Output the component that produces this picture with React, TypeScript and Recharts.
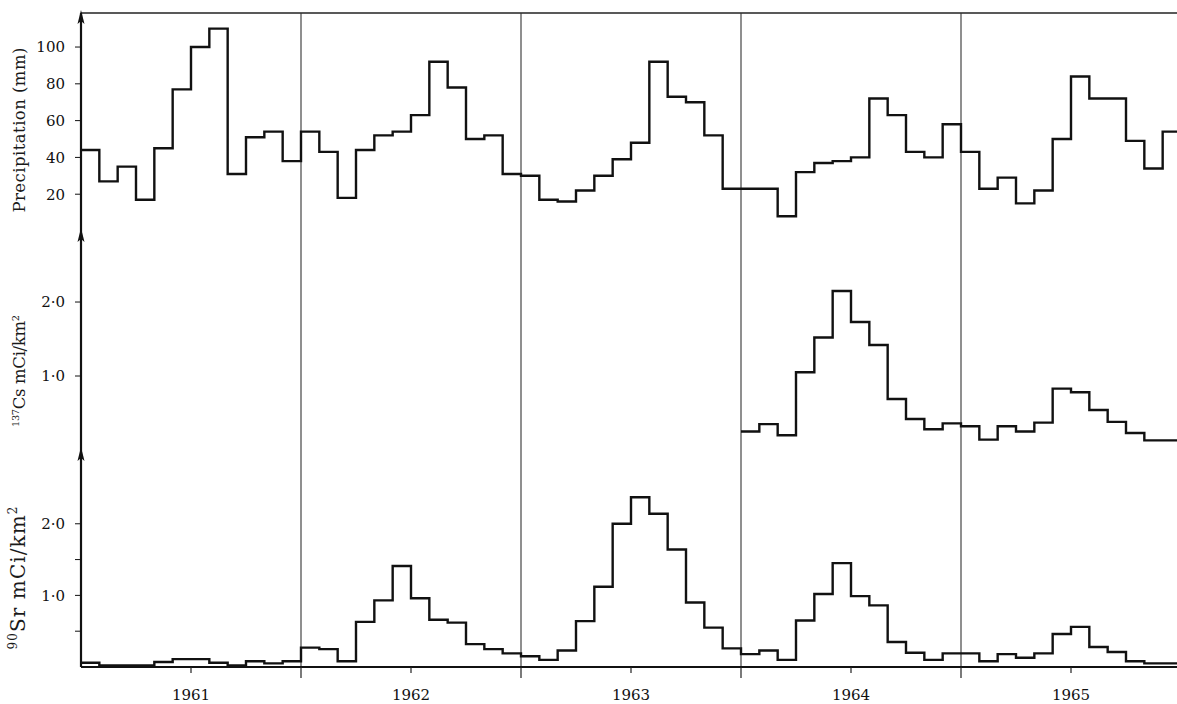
import React from 'react';
import { LineChart, Line, XAxis, YAxis, ReferenceLine } from 'recharts';

// monthly values, Jan 1961 .. Dec 1965
const years = ['1961', '1962', '1963', '1964', '1965'];

const precip = [
  44, 27, 35, 17, 45, 77, 100, 110, 31, 51, 54, 38,
  54, 43, 18, 44, 52, 54, 63, 92, 78, 50, 52, 31,
  30, 17, 16, 22, 30, 39, 48, 92, 73, 70, 52, 23,
  23, 23, 8, 32, 37, 38, 40, 72, 63, 43, 40, 58,
  43, 23, 29, 15, 22, 50, 84, 72, 72, 49, 34, 54,
];

// caesium only measured from 1964 on
const cs1964 = [0.25, 0.35, 0.2, 1.05, 1.52, 2.15, 1.73, 1.42, 0.69, 0.42, 0.28, 0.36];
const cs1965 = [0.32, 0.14, 0.32, 0.25, 0.37, 0.83, 0.78, 0.54, 0.38, 0.23, 0.13, 0.13];
const cs137: (number | null)[] = [...Array(36).fill(null), ...cs1964, ...cs1965];

const sr90 = [
  0.06, 0.02, 0.02, 0.02, 0.07, 0.11, 0.11, 0.06, 0.02, 0.08, 0.05, 0.08,
  0.27, 0.25, 0.08, 0.63, 0.93, 1.41, 0.96, 0.66, 0.62, 0.32, 0.25, 0.19,
  0.15, 0.1, 0.23, 0.64, 1.12, 2.0, 2.37, 2.14, 1.64, 0.9, 0.55, 0.26,
  0.18, 0.23, 0.1, 0.65, 1.02, 1.45, 0.99, 0.86, 0.35, 0.2, 0.1, 0.19,
  0.19, 0.08, 0.18, 0.13, 0.19, 0.46, 0.56, 0.28, 0.21, 0.08, 0.05, 0.05,
];

const yearBounds = [12, 24, 36, 48];
const xTicks = [6, 12, 18, 24, 30, 36, 42, 48, 54];
const precipTicks = [20, 40, 60, 80, 100];
const csTicks = [1, 2];
const srTicks = [0.5, 1, 1.5, 2];

// one extra row at m=60 so the last step is drawn to the end
const rows = Array.from({ length: 61 }, (_, m) => {
  const i = Math.min(m, 59);
  return { m, precip: precip[i], cs: cs137[i], sr: sr90[i] };
});

const FONT = '"DejaVu Serif", "Liberation Serif", serif';
const INK = '#111';
const W = 1181;

const fmtDot = (v: number) => (Number.isInteger(v) ? v.toFixed(1).replace('.', '\u00b7') : '');

const AxisTitle = (props: any) => {
  const { viewBox, center, length, size, parts } = props;
  const ax = viewBox.x + viewBox.width;
  const top = viewBox.y;
  const sh = size * 0.38;
  return (
    <g>
      <path d={`M${ax} ${top - 3} L${ax - 3.5} ${top + 11} L${ax} ${top + 8} L${ax + 3.5} ${top + 11} Z`} fill={INK} />
      <text
        transform={`translate(25, ${center}) rotate(-90)`}
        textAnchor="middle"
        fontFamily={FONT}
        fontSize={size}
        fill="#1a1a1a"
        textLength={length}
        lengthAdjust="spacing"
      >
        {parts.map((p: any, k: number) => {
          const prevSup = k > 0 && parts[k - 1].sup;
          const dy = p.sup ? -sh : prevSup ? sh : 0;
          return (
            <tspan key={k} fontSize={p.sup ? size * 0.6 : size} dy={dy}>
              {p.t}
            </tspan>
          );
        })}
      </text>
    </g>
  );
};

const YearTick = (props: any) => {
  const { x, y, payload } = props;
  const v = payload.value;
  const bound = v % 12 === 0;
  return (
    <g>
      <line x1={x} x2={x} y1={y} y2={y + (bound ? 11 : 6)} stroke="#222" strokeWidth={1.2} />
      {!bound && (
        <text x={x} y={y + 33} textAnchor="middle" fontFamily={FONT} fontSize={15} fill="#111">
          {years[(v - 6) / 12]}
        </text>
      )}
    </g>
  );
};

const yTickStyle = { fontFamily: FONT, fontSize: 15, fill: '#111' };

const bounds = () =>
  yearBounds.map((b) => <ReferenceLine key={b} x={b} stroke="#333" strokeWidth={1.1} />);

export default function App() {
  return (
    <div style={{ position: 'absolute', left: 0, top: 0, width: 1177, height: 704, overflow: 'hidden', background: '#fff' }}>
      <div style={{ position: 'absolute', left: 0, top: 0 }}>
        <LineChart width={W} height={239} data={rows} margin={{ top: 13, right: 0, bottom: 8, left: 0 }}>
          <XAxis type="number" dataKey="m" domain={[0, 60]} ticks={[]} tick={false} tickLine={false} height={0}
            axisLine={{ stroke: '#222', strokeWidth: 1.4 }} allowDataOverflow />
          <YAxis type="number" domain={[0, 118.5]} ticks={precipTicks} width={81} tickSize={6} tickMargin={10}
            tick={yTickStyle} tickLine={{ stroke: INK }} axisLine={{ stroke: INK, strokeWidth: 2.2 }} allowDataOverflow
            label={(p: any) => (
              <AxisTitle {...p} center={130} length={165} size={16.5} parts={[{ t: 'Precipitation (mm)' }]} />
            )}
          />
          <ReferenceLine y={118.5} stroke="#222" strokeWidth={1.4} />
          {bounds()}
          <Line type="stepAfter" dataKey="precip" stroke={INK} strokeWidth={2.4} dot={false} activeDot={false} isAnimationActive={false} />
        </LineChart>
      </div>

      <div style={{ position: 'absolute', left: 0, top: 218 }}>
        <LineChart width={W} height={240} data={rows} margin={{ top: 13, right: 0, bottom: 8, left: 0 }}>
          <XAxis type="number" dataKey="m" domain={[0, 60]} ticks={[]} tick={false} tickLine={false} height={0}
            axisLine={{ stroke: '#222', strokeWidth: 1.4 }} allowDataOverflow />
          <YAxis type="number" domain={[0, 2.96]} ticks={csTicks} width={81} tickSize={6} tickMargin={10}
            tick={yTickStyle} tickFormatter={fmtDot} tickLine={{ stroke: INK }} axisLine={{ stroke: INK, strokeWidth: 2.2 }} allowDataOverflow
            label={(p: any) => (
              <AxisTitle {...p} center={153} length={112} size={16.5}
                parts={[{ t: '137', sup: true }, { t: 'Cs mCi/km' }, { t: '2', sup: true }]} />
            )}
          />
          {bounds()}
          <Line type="stepAfter" dataKey="cs" stroke={INK} strokeWidth={2.4} dot={false} activeDot={false} connectNulls={false} isAnimationActive={false} />
        </LineChart>
      </div>

      <div style={{ position: 'absolute', left: 0, top: 437 }}>
        <LineChart width={W} height={270} data={rows} margin={{ top: 13, right: 0, bottom: 0, left: 0 }}>
          <XAxis type="number" dataKey="m" domain={[0, 60]} ticks={xTicks} tick={<YearTick />} tickLine={false}
            tickSize={0} tickMargin={0} height={40} interval={0}
            axisLine={{ stroke: INK, strokeWidth: 2.2 }} allowDataOverflow />
          <YAxis type="number" domain={[0, 3.03]} ticks={srTicks} width={81} tickSize={6} tickMargin={10}
            tick={yTickStyle} tickFormatter={fmtDot} tickLine={{ stroke: INK }} axisLine={{ stroke: INK, strokeWidth: 2.2 }} allowDataOverflow
            label={(p: any) => (
              <AxisTitle {...p} center={141} length={143} size={20}
                parts={[{ t: '90', sup: true }, { t: 'Sr mCi/km' }, { t: '2', sup: true }]} />
            )}
          />
          {bounds()}
          <Line type="stepAfter" dataKey="sr" stroke={INK} strokeWidth={2.4} dot={false} activeDot={false} isAnimationActive={false} />
        </LineChart>
      </div>
    </div>
  );
}
